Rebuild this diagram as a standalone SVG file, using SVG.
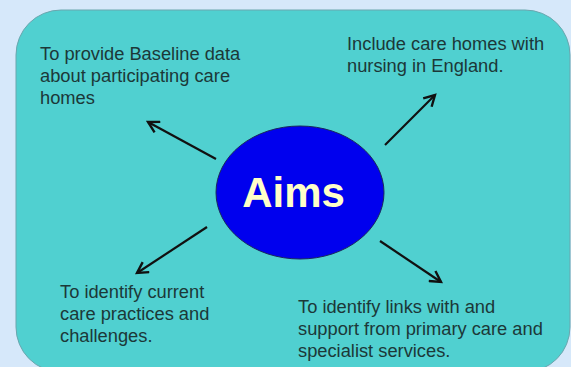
<svg xmlns="http://www.w3.org/2000/svg" width="571" height="367" viewBox="0 0 571 367">
<defs>
<style>
.t{font-family:"Liberation Sans",Arial,sans-serif;font-size:18.3px;fill:#1c3838}
.c{stroke:#111;stroke-width:2.2;fill:none;marker-end:url(#ah)}
</style>
<marker id="ah" viewBox="0 0 12 12" refX="10" refY="6" markerWidth="6.5" markerHeight="6.5" orient="auto" markerUnits="strokeWidth">
<path d="M1,1 L10,6 L1,11" fill="none" stroke="#111" stroke-width="2"/>
</marker>
</defs>
<rect x="0" y="0" width="571" height="367" fill="#d6e8fa"/>
<rect x="16" y="10" width="554" height="362" rx="45" ry="45" fill="#50d0d0" stroke="#6aa6ae" stroke-width="1"/>
<g id="connectors">
<line class="c" x1="216" y1="159" x2="148" y2="122"/>
<line class="c" x1="385" y1="145" x2="435" y2="95"/>
<line class="c" x1="207" y1="227" x2="137" y2="273"/>
<line class="c" x1="380" y1="241" x2="441" y2="282"/>
</g>
<g id="aims">
<ellipse cx="300" cy="192.5" rx="84" ry="66.5" fill="#0000ee" stroke="#1a2a5a" stroke-width="1"/>
<text x="293.5" y="207" text-anchor="middle" font-family="Liberation Sans,Arial,sans-serif" font-weight="bold" font-size="42" fill="#ffffc8">Aims</text>
</g>
<g id="baseline">
<text class="t" x="40" y="60">To provide Baseline data</text>
<text class="t" x="40" y="82">about participating care</text>
<text class="t" x="40" y="104">homes</text>
</g>
<g id="include">
<text class="t" x="347" y="50">Include care homes with</text>
<text class="t" x="347" y="72">nursing in England.</text>
</g>
<g id="practices">
<text class="t" x="60" y="298">To identify current</text>
<text class="t" x="60" y="320">care practices and</text>
<text class="t" x="60" y="342">challenges.</text>
</g>
<g id="links">
<text class="t" x="298" y="313">To identify links with and</text>
<text class="t" x="298" y="335">support from primary care and</text>
<text class="t" x="298" y="357">specialist services.</text>
</g>
</svg>
